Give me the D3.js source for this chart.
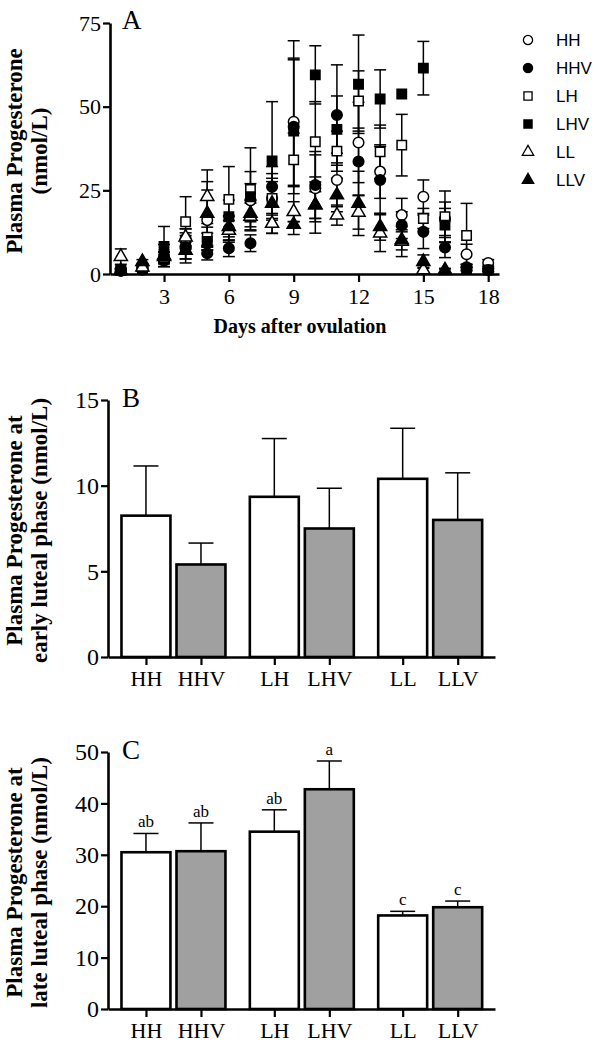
<!DOCTYPE html>
<html>
<head>
<meta charset="utf-8">
<script src="https://cdn.jsdelivr.net/npm/d3@7/dist/d3.min.js"></script>
<style>
  body { margin: 0; background: #fff; }
  svg { display: block; }
  .serif { font-family: "Liberation Serif", "Times New Roman", serif; }
  .sans { font-family: "Liberation Sans", Arial, sans-serif; }
</style>
</head>
<body>
<svg id="chart" width="600" height="1045"></svg>
<script>
// ---------------- DATA ----------------
const days = [1,2,3,4,5,6,7,8,9,10,11,12,13,14,15,16,17,18];
const seriesNames = ["HH","HHV","LH","LHV","LL","LLV"];

// Panel A: mean plasma progesterone (nmol/L) by day, per group (null = no data)
const HH_mean  = [1.0,1.5,4.5,10.5,16.1,13.5,22.0,22.6,45.5,25.6,28.1,39.3,30.6,17.6,23.1,16.5,5.9,3.3];
const HHV_mean = [1.0,1.3,4.0,8.0,6.2,7.7,9.2,26.1,44.0,26.6,47.5,33.6,28.1,14.6,12.6,7.9,2.0,1.2];
const LH_mean  = [1.0,1.5,5.0,15.6,11.0,22.3,25.3,22.6,34.1,39.5,36.7,51.7,36.5,38.5,16.6,17.1,11.5,null];
const LHV_mean = [1.2,1.8,8.2,7.8,9.7,17.1,23.1,33.8,42.7,59.5,43.2,56.7,52.3,53.8,61.5,14.6,1.5,1.2];
const LL_mean  = [5.2,2.0,5.2,11.0,23.1,13.0,17.2,15.1,18.6,20.6,17.6,18.4,12.2,9.7,1.2,1.0,null,null];
const LLV_mean = [1.0,3.7,5.5,7.0,18.1,14.1,18.1,21.1,14.8,20.6,23.6,21.1,14.1,10.2,3.7,1.2,null,null];

// Panel A: SEM
const HH_sem  = [0.5,0.6,1.2,3.0,9.0,4.0,5.0,5.0,19.0,10.0,8.0,12.0,8.0,5.0,5.0,5.0,3.0,1.0];
const HHV_sem = [0.5,0.5,1.0,3.5,2.0,2.5,2.5,6.0,20.0,10.0,15.0,10.0,10.0,4.0,5.0,3.0,0.8,0.5];
const LH_sem  = [0.5,0.6,1.5,7.5,3.0,9.8,12.4,6.0,8.0,12.0,6.0,9.0,8.0,9.2,3.0,7.7,9.6,null];
const LHV_sem = [0.6,0.6,6.0,4.5,2.5,5.0,7.5,17.7,27.0,8.7,10.0,14.7,8.7,0.0,8.0,5.0,0.6,0.5];
const LL_sem  = [2.3,0.6,1.5,2.5,8.0,3.0,4.0,3.0,3.0,4.0,3.0,5.0,5.5,4.5,0.8,0.5,null,null];
const LLV_sem = [0.5,0.6,3.3,2.5,9.5,3.0,4.0,8.9,3.0,8.4,5.0,9.6,4.0,3.0,2.0,0.5,null,null];

const xTicksA = [3,6,9,12,15,18];
const yTicksA = [0,25,50,75];

// Panels B and C
const barCats = ["HH","HHV","LH","LHV","LL","LLV"];
const early_mean = [8.25,5.4,9.35,7.5,10.4,8.0];
const early_sem  = [2.9,1.25,3.4,2.35,2.95,2.75];
const late_mean  = [30.5,30.7,34.5,42.75,18.2,19.8];
const late_sem   = [3.65,5.5,4.25,5.5,0.8,1.2];
const late_letters = ["ab","ab","ab","a","c","c"];
const yTicksB = [0,5,10,15];
const yTicksC = [0,10,20,30,40,50];

// ---------------- DRAWING ----------------
const svg = d3.select("#chart");
const means = [HH_mean,HHV_mean,LH_mean,LHV_mean,LL_mean,LLV_mean];
const sems  = [HH_sem,HHV_sem,LH_sem,LHV_sem,LL_sem,LLV_sem];
const symbolType = [d3.symbolCircle,d3.symbolCircle,d3.symbolSquare,d3.symbolSquare,d3.symbolTriangle,d3.symbolTriangle];
const symbolSize = [88,88,88,88,75,75];
const filled = [false,true,false,true,false,true];

function styleAxis(g, fontSize) {
  g.select(".domain").attr("stroke","#000").attr("stroke-width",2.6);
  g.selectAll(".tick line").attr("stroke","#000").attr("stroke-width",2.2);
  g.selectAll(".tick text").attr("class","serif").attr("font-size",fontSize).attr("fill","#000");
}

// ---- Panel A ----
const xA = d3.scaleLinear().domain([0.5,18.5]).range([110,499]);
const yA = d3.scaleLinear().domain([0,75]).range([274,23]);

const gA = svg.append("g");
// error bars
means.forEach((m,si) => {
  days.forEach((d,i) => {
    if (m[i] == null) return;
    const s = sems[si][i];
    if (!s) return;
    const x = xA(d), y1 = yA(m[i]+s), y0 = yA(Math.max(0,m[i]-s));
    gA.append("line").attr("x1",x).attr("x2",x).attr("y1",y1).attr("y2",y0)
      .attr("stroke","#000").attr("stroke-width",1.5);
    [y1,y0].forEach(yy => gA.append("line").attr("x1",x-6).attr("x2",x+6)
      .attr("y1",yy).attr("y2",yy).attr("stroke","#000").attr("stroke-width",1.5));
  });
});
// markers
means.forEach((m,si) => {
  const sym = d3.symbol().type(symbolType[si]).size(symbolSize[si]);
  days.forEach((d,i) => {
    if (m[i] == null) return;
    gA.append("path").attr("d",sym())
      .attr("transform",`translate(${xA(d)},${yA(m[i])})`)
      .attr("fill", filled[si] ? "#000" : "#fff")
      .attr("stroke","#000").attr("stroke-width",1.5);
  });
});

const axAx = gA.append("g").attr("transform","translate(0,274)")
  .call(d3.axisBottom(xA).tickValues(xTicksA).tickSize(8).tickPadding(6).tickSizeOuter(0));
styleAxis(axAx, 22);
const axAy = gA.append("g").attr("transform","translate(110,0)")
  .call(d3.axisLeft(yA).tickValues(yTicksA).tickSize(7).tickPadding(2).tickSizeOuter(0));
styleAxis(axAy, 22);

gA.append("text").attr("class","serif").attr("x",122).attr("y",29).attr("font-size",27).text("A");
gA.append("text").attr("class","serif").attr("x",300).attr("y",333).attr("text-anchor","middle")
  .attr("font-size",20).attr("font-weight","bold").text("Days after ovulation");
gA.append("text").attr("class","serif").attr("transform","translate(22,151) rotate(-90)")
  .attr("text-anchor","middle").attr("font-size",23).attr("font-weight","bold").text("Plasma Progesterone");
gA.append("text").attr("class","serif").attr("transform","translate(47,151) rotate(-90)")
  .attr("text-anchor","middle").attr("font-size",23).attr("font-weight","bold").text("(nmol/L)");

// legend
const leg = svg.append("g");
seriesNames.forEach((n,si) => {
  const y = 40 + si*28;
  const sym = d3.symbol().type(symbolType[si]).size(symbolSize[si]*0.75);
  leg.append("path").attr("d",sym()).attr("transform",`translate(528,${y})`)
    .attr("fill", filled[si] ? "#000" : "#fff").attr("stroke","#000").attr("stroke-width",1.3);
  leg.append("text").attr("class","sans").attr("x",556).attr("y",y).attr("dy","0.36em")
    .attr("font-size",17).text(n);
});

// ---- Bar panels ----
function barPanel(meanArr, semArr, yMax, yTicks, top, bottom, letter, labelLine1, labelLine2, letters) {
  const g = svg.append("g");
  const pos = barCats.map((c,i) => Math.floor(i/2)*(2+1/3) + (i%2));
  const x = d3.scaleLinear().domain([-0.69,6.345]).range([108,495]);
  const y = d3.scaleLinear().domain([0,yMax]).range([bottom,top]);
  const bw = x(0.89) - x(0);
  // error bars (upper only)
  meanArr.forEach((m,i) => {
    const cx = x(pos[i]);
    g.append("line").attr("x1",cx).attr("x2",cx).attr("y1",y(m)).attr("y2",y(m+semArr[i]))
      .attr("stroke","#000").attr("stroke-width",1.5);
    g.append("line").attr("x1",cx-12.5).attr("x2",cx+12.5).attr("y1",y(m+semArr[i])).attr("y2",y(m+semArr[i]))
      .attr("stroke","#000").attr("stroke-width",1.5);
    if (letters) {
      g.append("text").attr("class","serif").attr("x",cx).attr("y",y(m+semArr[i])-6)
        .attr("text-anchor","middle").attr("font-size",17).text(letters[i]);
    }
  });
  // bars
  g.selectAll("rect.bar").data(meanArr).join("rect").attr("class","bar")
    .attr("x",(d,i)=>x(pos[i])-bw/2).attr("width",bw)
    .attr("y",d=>y(d)).attr("height",d=>bottom-y(d))
    .attr("fill",(d,i)=> i%2 ? "#a0a0a0" : "#fff")
    .attr("stroke","#000").attr("stroke-width",2.6);
  // axes
  const ax = g.append("g").attr("transform",`translate(0,${bottom})`)
    .call(d3.axisBottom(x).tickValues(pos).tickFormat((d,i)=>barCats[i]).tickSize(8).tickPadding(5).tickSizeOuter(0));
  styleAxis(ax, 22);
  const ay = g.append("g").attr("transform","translate(108,0)")
    .call(d3.axisLeft(y).tickValues(yTicks).tickSize(7).tickPadding(2).tickSizeOuter(0));
  styleAxis(ay, 24);
  g.append("text").attr("class","serif").attr("x",122).attr("y",top+7).attr("font-size",27).text(letter);
  const cy = (top+bottom)/2 + 2;
  g.append("text").attr("class","serif").attr("transform",`translate(22,${cy}) rotate(-90)`)
    .attr("text-anchor","middle").attr("font-size",23).attr("font-weight","bold").text(labelLine1);
  g.append("text").attr("class","serif").attr("transform",`translate(47,${cy}) rotate(-90)`)
    .attr("text-anchor","middle").attr("font-size",23).attr("font-weight","bold").text(labelLine2);
}

barPanel(early_mean, early_sem, 15, yTicksB, 400, 657, "B",
  "Plasma Progesterone at", "early luteal phase (nmol/L)", null);
barPanel(late_mean, late_sem, 50, yTicksC, 752, 1009, "C",
  "Plasma Progesterone at", "late luteal phase (nmol/L)", late_letters);
</script>
</body>
</html>
